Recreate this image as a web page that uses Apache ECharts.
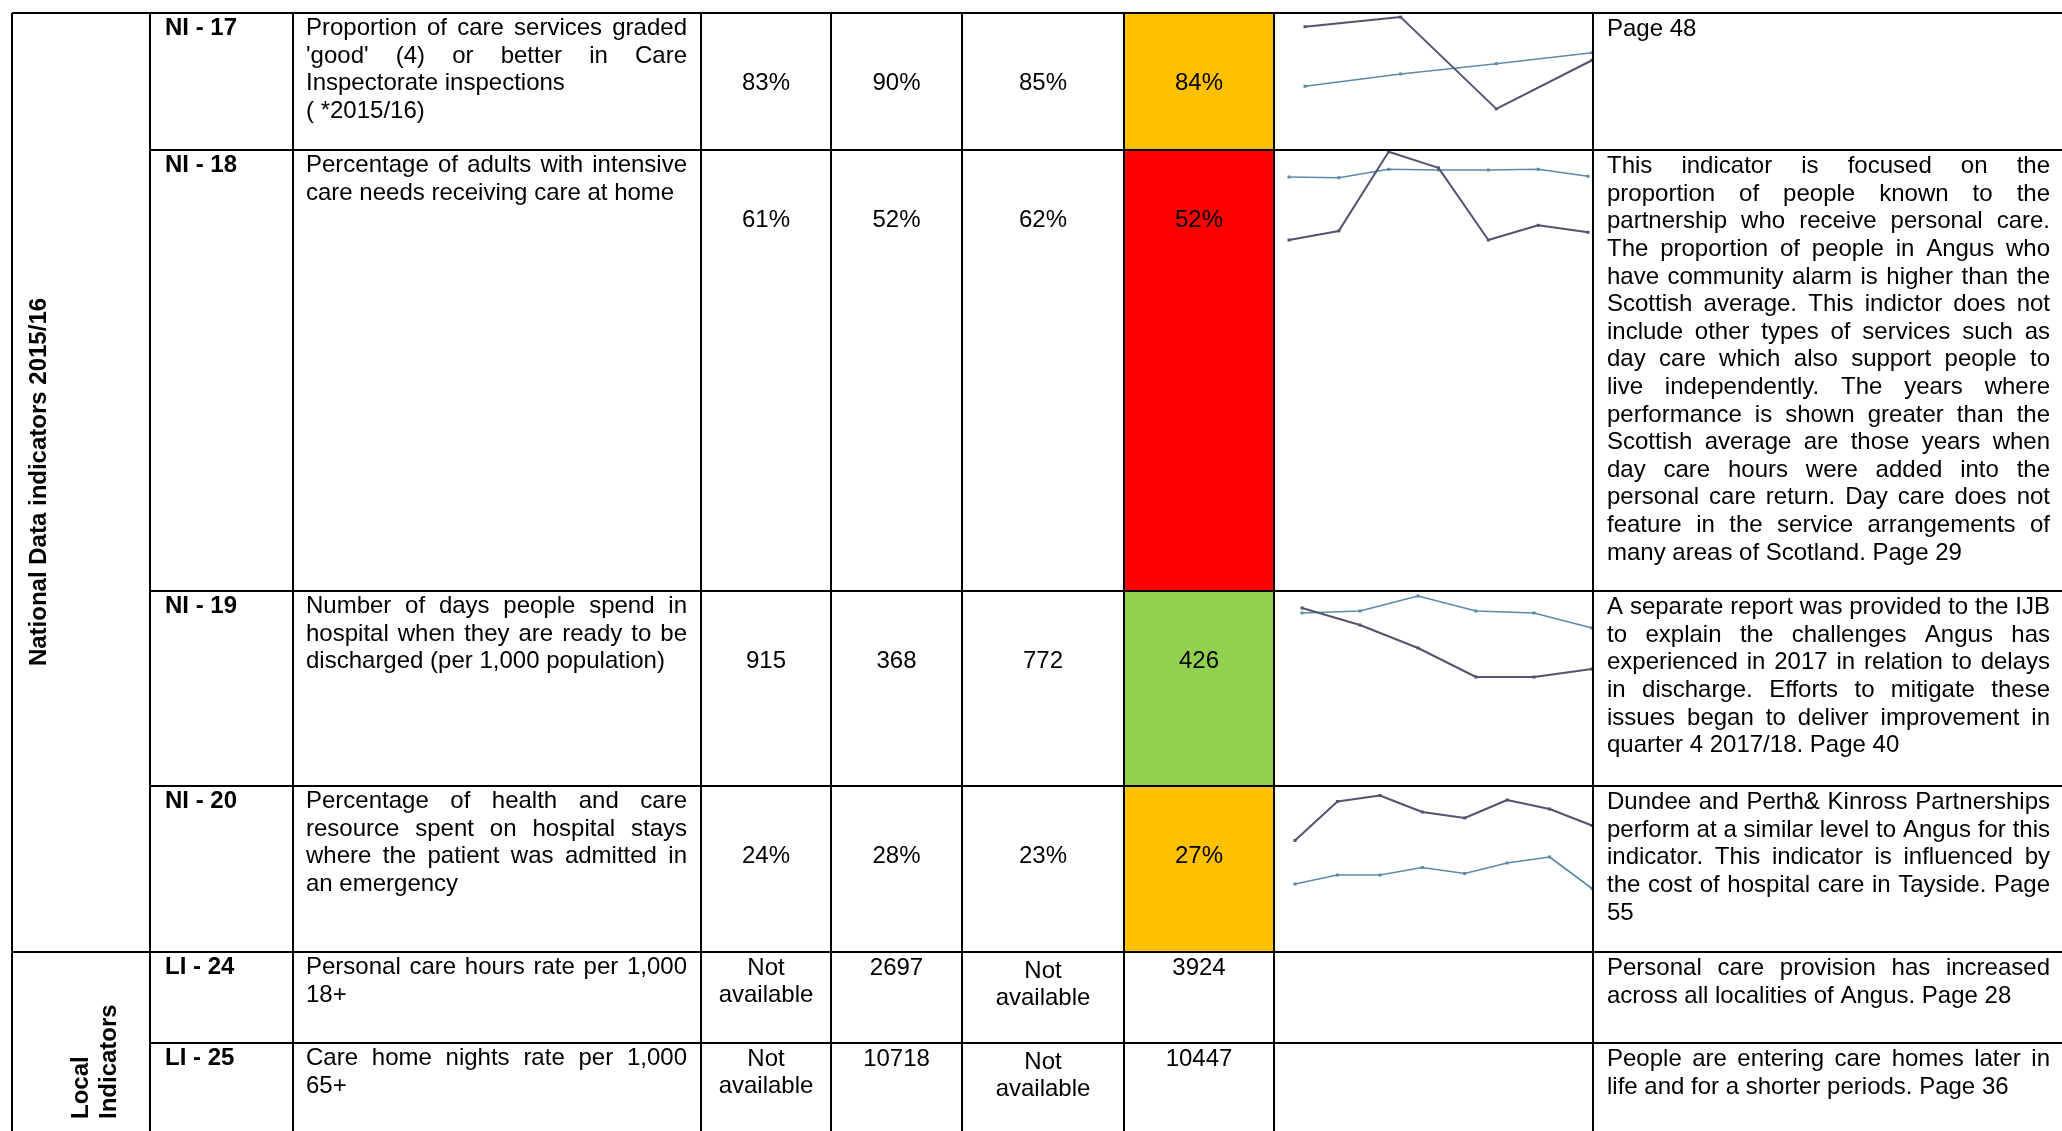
<!DOCTYPE html>
<html>
<head>
<meta charset="utf-8">
<script src="https://cdn.jsdelivr.net/npm/echarts@6/dist/echarts.min.js"></script>
<style>
  html, body { margin: 0; padding: 0; background: #fff; }
  #chart { width: 2062px; height: 1131px; }
</style>
</head>
<body>
<div id="chart"></div>
<script>
// table content
const sectionLabels = ["National Data indicators 2015/16", "Local", "Indicators"];
const codes = ["NI - 17", "NI - 18", "NI - 19", "NI - 20", "LI - 24", "LI - 25"];
const descLines = [
  ["Proportion of care services graded", "'good' (4) or better in Care", "Inspectorate inspections\n", "( *2015/16)"],
  ["Percentage of adults with intensive", "care needs receiving care at home"],
  ["Number of days people spend in", "hospital when they are ready to be", "discharged (per 1,000 population)"],
  ["Percentage of health and care", "resource spent on hospital stays", "where the patient was admitted in", "an emergency"],
  ["Personal care hours rate per 1,000", "18+"],
  ["Care home nights rate per 1,000", "65+"]
];
const valuesCol1 = ["83%", "61%", "915", "24%", "Not\navailable", "Not\navailable"];
const valuesCol2 = ["90%", "52%", "368", "28%", "2697", "10718"];
const valuesCol3 = ["85%", "62%", "772", "23%", "Not\navailable", "Not\navailable"];
const valuesCol4 = ["84%", "52%", "426", "27%", "3924", "10447"];
const status = ["amber", "red", "green", "amber", "none", "none"];
const commentLines = [
  ["Page 48"],
  ["This indicator is focused on the", "proportion of people known to the", "partnership who receive personal care.",
   "The proportion of people in Angus who", "have community alarm is higher than the",
   "Scottish average. This indictor does not", "include other types of services such as",
   "day care which also support people to", "live independently. The years where",
   "performance is shown greater than the", "Scottish average are those years when",
   "day care hours were added into the", "personal care return. Day care does not",
   "feature in the service arrangements of", "many areas of Scotland. Page 29"],
  ["A separate report was provided to the IJB", "to explain the challenges Angus has",
   "experienced in 2017 in relation to delays", "in discharge. Efforts to mitigate these",
   "issues began to deliver improvement in", "quarter 4 2017/18. Page 40"],
  ["Dundee and Perth& Kinross Partnerships", "perform at a similar level to Angus for this",
   "indicator. This indicator is influenced by", "the cost of hospital care in Tayside. Page", "55"],
  ["Personal care provision has increased", "across all localities of Angus. Page 28"],
  ["People are entering care homes later in", "life and for a shorter periods. Page 36"]
];

// sparkline values (Angus dark, Scotland light)
const ni17Angus = [88.0, 89.4, 76.0, 83.1];
const ni17Scotland = [79.3, 81.1, 82.6, 84.2];
const ni18Angus = [52.0, 53.3, 64.6, 62.3, 52.0, 54.1, 53.1];
const ni18Scotland = [61.0, 60.9, 62.1, 62.0, 62.0, 62.1, 61.1];
const ni19Angus = [924, 788, 604, 372, 372, 436];
const ni19Scotland = [884, 900, 1020, 900, 884, 764];
const ni20Angus = [26.3, 28.9, 29.3, 28.2, 27.8, 29.0, 28.4, 27.3];
const ni20Scotland = [23.4, 24.0, 24.0, 24.5, 24.1, 24.8, 25.2, 23.1];

// layout
const W = 2062, H = 1131;
const colX = [12, 150, 293, 701, 831, 962, 1124, 1274, 1593];
const rowY = [13, 150, 591, 786, 952, 1043];
const LINE_H = 27.6;
const FONT = '24px "Liberation Sans", Arial, sans-serif';
const BOLD = 'bold 24px "Liberation Sans", Arial, sans-serif';
const statusColor = { amber: "#FFC000", red: "#FF0000", green: "#92D050" };
const sparkLayout = [
  { left: 1305, top: 13, width: 287, height: 137, min: 70, max: 90 },
  { left: 1289, top: 149, width: 299, height: 105, min: 50, max: 65 },
  { left: 1302, top: 586, width: 290, height: 100, min: 300, max: 1100 },
  { left: 1295, top: 785, width: 297, height: 120, min: 22, max: 30 }
];
const sparkData = [
  [ni17Angus, ni17Scotland], [ni18Angus, ni18Scotland],
  [ni19Angus, ni19Scotland], [ni20Angus, ni20Scotland]
];

const ctx = document.createElement("canvas").getContext("2d");
function measure(s, font) { ctx.font = font; return ctx.measureText(s).width; }

function txt(s, x, y, font, align, rotation) {
  return {
    type: "text", x: x, y: y, rotation: rotation || 0, silent: true, z: 10,
    style: { text: s, font: font, fill: "#000", textAlign: align, textVerticalAlign: "middle", align: align, verticalAlign: "middle" }
  };
}

// justified paragraph, last line (or hard break) left aligned
function addLines(els, lines, left, right, top, font) {
  lines.forEach(function (raw, i) {
    const hard = raw.endsWith("\n");
    const line = raw.replace("\n", "");
    const y = top + i * LINE_H;
    if (hard || i === lines.length - 1) { els.push(txt(line, left, y, font, "left")); return; }
    const words = line.split(" ");
    const widths = words.map(function (w) { return measure(w, font); });
    const sum = widths.reduce(function (a, b) { return a + b; }, 0);
    const gap = (right - left - sum) / (words.length - 1);
    let x = left;
    words.forEach(function (w, k) { els.push(txt(w, x, y, font, "left")); x += widths[k] + gap; });
  });
}

const els = [];

// coloured status cells
status.forEach(function (s, i) {
  if (!statusColor[s]) return;
  const bottom = i + 1 < rowY.length ? rowY[i + 1] : H;
  els.push({ type: "rect", silent: true, z: 1, shape: { x: colX[6], y: rowY[i], width: colX[7] - colX[6], height: bottom - rowY[i] }, style: { fill: statusColor[s] } });
});

// row contents
const valueCols = [valuesCol1, valuesCol2, valuesCol3, valuesCol4];
codes.forEach(function (c, i) {
  const top = rowY[i];
  els.push(txt(c, 165, top + 15.5, BOLD, "left"));
  addLines(els, descLines[i], 306, 687, top + 15.5, FONT);
  addLines(els, commentLines[i], 1607, 2050, top + 16.5, FONT);
  valueCols.forEach(function (col, k) {
    const cx = (colX[3 + k] + colX[4 + k]) / 2;
    const parts = col[i].split("\n");
    const y0 = i < 4 ? top + 70.5 : top + (k === 2 ? 19 : 16);
    parts.forEach(function (p, j) { els.push(txt(p, cx, y0 + j * LINE_H, FONT, "center")); });
  });
});

// rotated section labels
els.push(txt(sectionLabels[0], 39, 482, BOLD, "center", Math.PI / 2));
els.push(txt(sectionLabels[1], 81, 1119, BOLD, "left", Math.PI / 2));
els.push(txt(sectionLabels[2], 109, 1119, BOLD, "left", Math.PI / 2));

// grid lines
function ln(x1, y1, x2, y2) {
  return { type: "line", silent: true, z: 5, shape: { x1: x1, y1: y1, x2: x2, y2: y2 }, style: { stroke: "#000", lineWidth: 2 } };
}
colX.forEach(function (x) { els.push(ln(x, rowY[0], x, H)); });
els.push(ln(colX[0], rowY[0], W, rowY[0]));
els.push(ln(colX[1], rowY[1], W, rowY[1]));
els.push(ln(colX[1], rowY[2], W, rowY[2]));
els.push(ln(colX[1], rowY[3], W, rowY[3]));
els.push(ln(colX[0], rowY[4], W, rowY[4]));
els.push(ln(colX[1], rowY[5], W, rowY[5]));

// sparklines
const grids = [], xAxes = [], yAxes = [], series = [];
sparkLayout.forEach(function (g, i) {
  grids.push({ left: g.left, top: g.top, width: g.width, height: g.height });
  xAxes.push({ type: "category", gridIndex: i, show: false, boundaryGap: false, data: sparkData[i][0].map(function (_, k) { return k; }) });
  yAxes.push({ type: "value", gridIndex: i, show: false, min: g.min, max: g.max });
  series.push({ type: "line", xAxisIndex: i, yAxisIndex: i, data: sparkData[i][1], symbol: "rect", symbolSize: 3,
    lineStyle: { color: "#5d8aa8", width: 1.6 }, itemStyle: { color: "#5d8aa8" }, silent: true, z: 3 });
  series.push({ type: "line", xAxisIndex: i, yAxisIndex: i, data: sparkData[i][0], symbol: "rect", symbolSize: 3,
    lineStyle: { color: "#55536f", width: 2 }, itemStyle: { color: "#55536f" }, silent: true, z: 4 });
});

const myChart = echarts.init(document.getElementById("chart"));
myChart.setOption({
  animation: false,
  backgroundColor: "#fff",
  grid: grids,
  xAxis: xAxes,
  yAxis: yAxes,
  series: series,
  graphic: { elements: els }
});
</script>
</body>
</html>
